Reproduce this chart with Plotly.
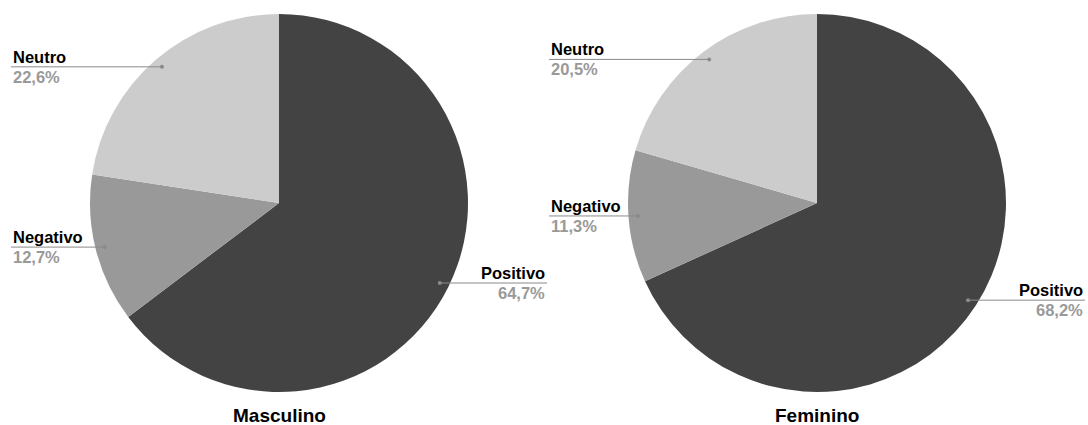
import math
import plotly.graph_objects as go

# Data
categories = ["Positivo", "Negativo", "Neutro"]
masculino = [64.7, 12.7, 22.6]
feminino = [68.2, 11.3, 20.5]
titles = ["Masculino", "Feminino"]
colors = ["#434343", "#999999", "#cccccc"]

W, H = 1088, 425
R = 189              # pie radius in px
CY = 203             # pie centre y in px
CXS = [279, 817]     # pie centres x in px
LABEL_GAP = 79       # distance from pie edge to label end
DOT_FRAC = 0.95      # leader-line anchor, as fraction of radius


def px(x):
    return x / W


def py(y):
    return 1 - y / H


fig = go.Figure()
shapes = []
annotations = []

for values, title, cx in zip([masculino, feminino], titles, CXS):
    fig.add_trace(go.Pie(
        labels=categories,
        values=values,
        sort=False,
        direction="clockwise",
        rotation=0,
        marker=dict(colors=colors, line=dict(width=0)),
        textinfo="none",
        hoverinfo="label+percent",
        showlegend=False,
        domain=dict(x=[px(cx - R), px(cx + R)], y=[py(CY + R), py(CY - R)]),
    ))

    total = sum(values)
    cum = 0.0
    for name, v in zip(categories, values):
        mid = (cum + v / 2) / total * 2 * math.pi
        cum += v
        dx = math.sin(mid) * R * DOT_FRAC
        dy = -math.cos(mid) * R * DOT_FRAC
        x0, y0 = cx + dx, CY + dy
        right = dx > 0
        xend = cx + R + LABEL_GAP if right else cx - R - LABEL_GAP
        anchor = "right" if right else "left"

        shapes.append(dict(type="line", xref="paper", yref="paper",
                           x0=px(x0), y0=py(y0), x1=px(xend), y1=py(y0),
                           line=dict(color="#8a8a8a", width=1)))
        shapes.append(dict(type="circle", xref="paper", yref="paper",
                           x0=px(x0 - 2), x1=px(x0 + 2),
                           y0=py(y0 + 2), y1=py(y0 - 2),
                           fillcolor="#8a8a8a", line=dict(width=0)))
        annotations.append(dict(
            x=px(xend), y=py(y0 - 10), xref="paper", yref="paper",
            text=f"<b>{name}</b>", showarrow=False,
            xanchor=anchor, yanchor="middle",
            font=dict(family="Liberation Sans, Arial", size=16.5, color="#000000"),
        ))
        pct = f"{v:.1f}%".replace(".", ",")
        annotations.append(dict(
            x=px(xend), y=py(y0 + 10), xref="paper", yref="paper",
            text=f"<b>{pct}</b>", showarrow=False,
            xanchor=anchor, yanchor="middle",
            font=dict(family="Liberation Sans, Arial", size=16.5, color="#999999"),
        ))

    annotations.append(dict(
        x=px(cx), y=py(415), xref="paper", yref="paper",
        text=f"<b>{title}</b>", showarrow=False,
        xanchor="center", yanchor="middle",
        font=dict(family="Liberation Sans, Arial", size=19, color="#000000"),
    ))

fig.update_layout(
    width=W, height=H,
    margin=dict(l=0, r=0, t=0, b=0),
    paper_bgcolor="#ffffff",
    plot_bgcolor="#ffffff",
    shapes=shapes,
    annotations=annotations,
)

fig.write_html("out.html")
